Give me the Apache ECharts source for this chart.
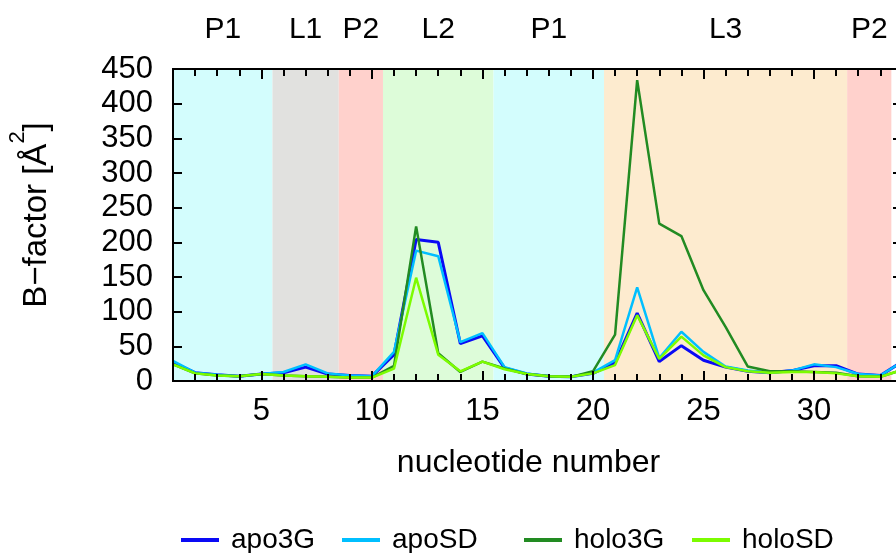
<!DOCTYPE html>
<html lang="en">
<head>
    <meta charset="UTF-8">
    <title>B-factor</title>
    <script src="https://cdn.jsdelivr.net/npm/echarts@6/dist/echarts.min.js"></script>
    <style>
        html, body { margin: 0; padding: 0; background: #fff; }
    </style>
</head>
<body>
<div id="main" style="width: 896px;height:553px;"></div>
<script type="text/javascript">
    // nucleotide numbers
    var nucleotides = [1, 2, 3, 4, 5, 6, 7, 8, 9, 10, 11, 12, 13, 14, 15, 16, 17,
        18, 19, 20, 21, 22, 23, 24, 25, 26, 27, 28, 29, 30, 31, 32, 33, 34];
    var apo3G = [27, 12, 9, 7, 10, 12, 20, 10, 8, 7, 38, 204, 200, 54, 65, 19, 10,
        7, 6, 11, 26, 98, 28, 51, 30, 20, 14, 12, 15, 22, 22, 10, 8, 28];
    var apoSD = [29, 12, 9, 7, 10, 13, 24, 11, 8, 7, 42, 188, 180, 56, 69, 20, 11,
        7, 6, 12, 30, 135, 33, 71, 42, 21, 15, 12, 15, 24, 20, 10, 8, 28];
    var holo3G = [24, 11, 8, 7, 10, 8, 7, 6, 5, 5, 22, 223, 40, 13, 28, 18, 10,
        7, 6, 14, 67, 434, 227, 209, 131, 78, 21, 14, 14, 13, 12, 7, 6, 16];
    var holoSD = [24, 11, 8, 7, 10, 8, 7, 6, 5, 5, 18, 149, 38, 14, 28, 17, 10,
        7, 6, 11, 23, 95, 32, 64, 37, 20, 14, 12, 13, 13, 11, 7, 6, 16];

    // structural regions (start / end in nucleotide units)
    var regionNames = ['P1', 'L1', 'P2', 'L2', 'P1', 'L3', 'P2'];
    var regionStart = [1, 5.5, 8.5, 10.5, 15.5, 20.5, 31.5];
    var regionEnd = [5.5, 8.5, 10.5, 15.5, 20.5, 31.5, 33.5];

    var majorTicks = [5, 10, 15, 20, 25, 30];
    var xMax = 33.71;   // picture is cut just before nucleotide 34

    var regionColors = {P1: '#d3fdfd', L1: '#e1e1df', P2: '#ffd1cc', L2: '#ddfcd9', L3: '#fdebcf'};
    var FONT = 'Liberation Sans';

    var myChart = echarts.init(document.getElementById('main'));

    function pairs(ys) {
        return nucleotides.map(function (x, i) { return [x, ys[i]]; });
    }

    var areas = regionNames.map(function (n, i) {
        return [{xAxis: regionStart[i], name: n, itemStyle: {color: regionColors[n]}},
            {xAxis: regionEnd[i]}];
    });

    function xAx(pos, tickVals, len, withLabel) {
        return {
            type: 'value', position: pos, min: 1, max: xMax, z: 5,
            axisLine: {show: true, onZero: false, lineStyle: {color: '#000', width: 2}},
            axisTick: {show: true, inside: true, length: len, customValues: tickVals,
                lineStyle: {color: '#000', width: 2}},
            axisLabel: withLabel ? {show: true, customValues: majorTicks, margin: 15,
                fontFamily: FONT, fontSize: 31, color: '#000'} : {show: false},
            splitLine: {show: false},
            name: withLabel ? 'nucleotide number' : '',
            nameLocation: 'middle', nameGap: 66,
            nameTextStyle: {fontFamily: FONT, fontSize: 32, color: '#000', padding: [0, 12, 0, 0]}
        };
    }

    function legendAt(name, left) {
        return {
            data: [name], left: left, top: 526, icon: 'rect', padding: 0,
            itemWidth: 38, itemHeight: 4,
            textStyle: {fontFamily: FONT, fontSize: 28, color: '#000', padding: [0, 0, 0, 7]},
            selectedMode: false
        };
    }

    function line(name, ys, color, width) {
        return {
            name: name, type: 'line', data: pairs(ys), showSymbol: false,
            lineStyle: {color: color, width: width}, itemStyle: {color: color},
            animation: false
        };
    }

    var series = [
        line('apo3G', apo3G, '#0a0af5', 3),
        line('apoSD', apoSD, '#00bfff', 2.5),
        line('holo3G', holo3G, '#228b22', 2.5),
        line('holoSD', holoSD, '#7cfc00', 2.5)
    ];
    series[0].markArea = {
        silent: true,
        data: areas,
        label: {show: true, position: 'top', distance: 24, fontFamily: FONT, fontSize: 30, color: '#000'}
    };

    myChart.setOption({
        animation: false,
        grid: {left: 173, top: 69, right: 0, bottom: 172, outerBoundsMode: 'none'},
        legend: [
            legendAt('apo3G', 181),
            legendAt('apoSD', 342),
            legendAt('holo3G', 524),
            legendAt('holoSD', 692)
        ],
        xAxis: [
            xAx('bottom', majorTicks, 10, true),
            xAx('bottom', nucleotides, 7, false),
            xAx('top', majorTicks, 10, false),
            xAx('top', nucleotides, 7, false)
        ],
        yAxis: [
            {
                type: 'value', min: 0, max: 450, interval: 50, z: 5,
                axisLine: {show: true, lineStyle: {color: '#000', width: 2}},
                axisTick: {show: true, inside: true, length: 9, lineStyle: {color: '#000', width: 2}},
                axisLabel: {margin: 20, fontFamily: FONT, fontSize: 31, color: '#000'},
                splitLine: {show: false},
                name: '{a|B−factor [Å}{s|2}{a|]}',
                nameLocation: 'middle', nameGap: 120,
                nameTextStyle: {
                    padding: [0, 0, 0, 20],
                    rich: {
                        a: {fontFamily: FONT, fontSize: 33, color: '#000', lineHeight: 46, verticalAlign: 'bottom'},
                        s: {fontFamily: FONT, fontSize: 22, color: '#000', lineHeight: 46, verticalAlign: 'top'}
                    }
                }
            },
            {
                type: 'value', position: 'right', min: 0, max: 450, interval: 50, z: 5,
                axisLine: {show: false},
                axisTick: {show: true, inside: true, length: 3, lineStyle: {color: '#000', width: 2}},
                axisLabel: {show: false},
                splitLine: {show: false}
            }
        ],
        series: series
    });
</script>
</body>
</html>
